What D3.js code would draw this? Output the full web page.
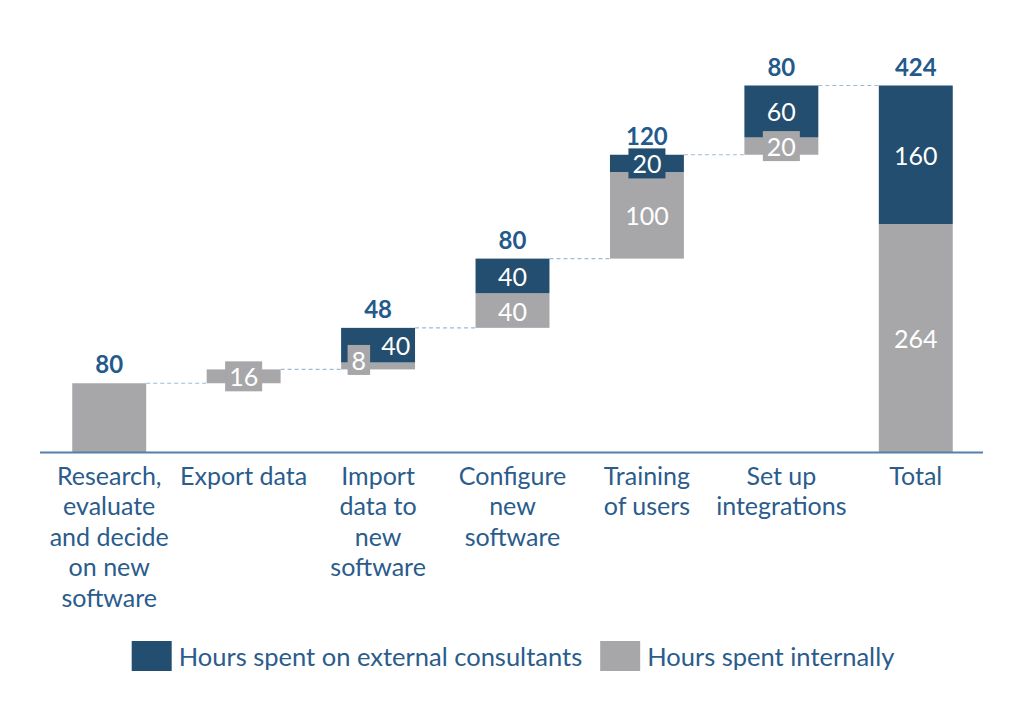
<!DOCTYPE html>
<html>
<head>
<meta charset="utf-8">
<script src="https://cdn.jsdelivr.net/npm/d3@7"></script>
<style>
  html, body { margin: 0; padding: 0; background: #ffffff; }
  svg { display: block; font-family: Lato, "Open Sans", sans-serif; }
  svg text { font-family: Lato, "Open Sans", sans-serif; }
</style>
</head>
<body>
<svg id="chart" width="1024" height="705"></svg>
<script>
// ---- data ----
const categories = [
  ["Research,", "evaluate", "and decide", "on new", "software"],
  ["Export data"],
  ["Import", "data to", "new", "software"],
  ["Configure", "new", "software"],
  ["Training", "of users"],
  ["Set up", "integrations"],
  ["Total"]
];
const internalHours = [80, 16, 8, 40, 100, 20, 264];
const externalHours = [0, 0, 40, 40, 20, 60, 160];
const topLabels = [80, null, 48, 80, 120, 80, 424];
const internalLabels = [null, 16, 8, 40, 100, 20, 264];
const externalLabels = [null, null, 40, 40, 20, 60, 160];
const seriesNames = ["Hours spent on external consultants", "Hours spent internally"];
const totalIndex = 6;

// ---- style ----
const DARK = "#234e70";
const GRAY = "#a7a7aa";
const BLUE_TEXT = "#2a5c8c";
const AXIS = "#5580aa";
const FONT = "Lato, 'Open Sans', sans-serif";

const svg = d3.select("#chart");

// ---- derive waterfall positions ----
const rows = [];
let run = 0;
categories.forEach((c, i) => {
  const base = (i === totalIndex) ? 0 : run;
  const mid = base + internalHours[i];
  const top = mid + externalHours[i];
  if (i !== totalIndex) run = top;
  rows.push({ i, base, mid, top });
});

const x = d3.scaleBand().domain(d3.range(categories.length))
  .range([42, 983]).paddingInner(0.45).paddingOuter(0.225);
const y = d3.scaleLinear().domain([0, d3.max(rows, r => r.top)]).range([452.5, 85.5]);
const bw = x.bandwidth();

// ---- connectors ----
svg.append("g").selectAll("line").data(rows.slice(0, rows.length - 1)).join("line")
  .attr("x1", r => x(r.i) + bw).attr("x2", r => x(r.i + 1))
  .attr("y1", r => y(r.top)).attr("y2", r => y(r.top))
  .attr("stroke", "#9fbbd8").attr("stroke-width", 1.2).attr("stroke-dasharray", "4,3");

// ---- bars ----
const bars = svg.append("g");
bars.selectAll("rect.int").data(rows).join("rect").attr("class", "int")
  .attr("x", r => x(r.i)).attr("width", bw)
  .attr("y", r => y(r.mid)).attr("height", r => y(r.base) - y(r.mid))
  .attr("fill", GRAY);
bars.selectAll("rect.ext").data(rows.filter(r => externalHours[r.i] > 0)).join("rect").attr("class", "ext")
  .attr("x", r => x(r.i)).attr("width", bw)
  .attr("y", r => y(r.top)).attr("height", r => y(r.mid) - y(r.top))
  .attr("fill", DARK);

// ---- axis ----
const axisG = svg.append("g").attr("transform", "translate(0,452.5)")
  .call(d3.axisBottom(x).tickSize(0).tickSizeOuter(0).tickPadding(0).tickFormat(""));
axisG.attr("font-family", FONT);
axisG.select(".domain").attr("stroke", AXIS).attr("stroke-width", 2)
  .attr("d", "M40,0H983");
axisG.selectAll(".tick text").remove();
axisG.selectAll(".tick").each(function(d) {
  const t = d3.select(this).append("text")
    .attr("text-anchor", "middle").attr("fill", BLUE_TEXT)
    .style("font-family", FONT).style("font-size", "25px").attr("y", 32);
  categories[d].forEach((line, k) => {
    t.append("tspan").attr("x", 0).attr("dy", k === 0 ? 0 : 30.5).text(line);
  });
});

// ---- value labels with boxes ----
const BOX_H = 30;
const labels = [];
rows.forEach(r => {
  const c = x(r.i) + bw / 2;
  const intY = (y(r.base) + y(r.mid)) / 2;
  const extY = (y(r.mid) + y(r.top)) / 2;
  let intX = c, extX = c;
  if (internalLabels[r.i] != null && externalLabels[r.i] != null && Math.abs(intY - extY) < BOX_H - 1) {
    intX = c - bw * 0.26; extX = c + bw * 0.24;
  }
  if (internalLabels[r.i] != null) labels.push({ v: internalLabels[r.i], cx: intX, cy: intY - (intX !== c ? 6 : 0), fill: GRAY });
  if (externalLabels[r.i] != null) labels.push({ v: externalLabels[r.i], cx: extX, cy: extY, fill: DARK });
});
const lg = svg.append("g");
labels.forEach(l => {
  const g = lg.append("g");
  const rect = g.append("rect").attr("fill", l.fill);
  const t = g.append("text").attr("x", l.cx).attr("y", l.cy)
    .attr("text-anchor", "middle").attr("dominant-baseline", "central")
    .attr("fill", "#ffffff").style("font-family", FONT).style("font-size", "25px").text(l.v);
  const w = t.node().getComputedTextLength() + 8;
  rect.attr("x", l.cx - w / 2).attr("y", l.cy - BOX_H / 2).attr("width", w).attr("height", BOX_H);
});

// ---- top total labels ----
svg.append("g").selectAll("text").data(rows.filter(r => topLabels[r.i] != null)).join("text")
  .attr("x", r => x(r.i) + bw / 2).attr("y", r => y(r.top) - 10)
  .attr("text-anchor", "middle").attr("fill", "#245a8b")
  .style("font-family", FONT).style("font-size", "24px").style("font-weight", "bold")
  .text(r => topLabels[r.i]);

// ---- legend ----
const legend = svg.append("g");
let lx = 0;
[DARK, GRAY].forEach((col, k) => {
  legend.append("rect").attr("x", lx).attr("y", 0).attr("width", 40).attr("height", 30).attr("fill", col);
  const t = legend.append("text").attr("x", lx + 47).attr("y", 15)
    .attr("dominant-baseline", "central").attr("fill", BLUE_TEXT)
    .style("font-family", FONT).style("font-size", "25.5px").text(seriesNames[k]);
  lx += 47 + t.node().getComputedTextLength() + 18;
});
const lw = lx - 18;
legend.attr("transform", `translate(${513 - lw / 2},641)`);
</script>
</body>
</html>
